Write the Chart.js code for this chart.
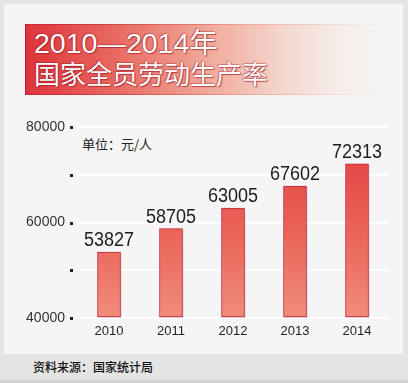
<!DOCTYPE html>
<html>
<head>
<meta charset="utf-8">
<script src="https://cdn.jsdelivr.net/npm/chart.js@4"></script>
<style>
  html, body { margin:0; padding:0; }
  body { width:408px; height:383px; background:#e4e4e4; position:relative; overflow:hidden;
         font-family:"Liberation Sans","Noto Sans CJK SC",sans-serif; }
  #panel { position:absolute; left:4px; top:4px; width:399px; height:350px; background:#f5f5f5; }
  #bottomline { position:absolute; left:0; top:380px; width:408px; height:3px; background:#d2d2d2; }
  #banner { position:absolute; left:25px; top:24px; width:360px; height:71px;
    background:linear-gradient(to right, #de343a 0%, #e86a62 25%, #f0a898 50%, #f4d8cf 72%, #f5eeeb 88%, rgba(245,245,245,0) 100%);
    border-left:1px solid #b81e2c; }
  #banner:before { content:""; position:absolute; left:0; top:0; right:0; height:1px;
    background:linear-gradient(to right, #c42634, rgba(230,120,110,0.4) 60%, rgba(245,245,245,0)); }
  #banner:after { content:""; position:absolute; left:0; bottom:0; right:0; height:1px;
    background:linear-gradient(to right, #c42634, rgba(230,120,110,0.4) 60%, rgba(245,245,245,0)); }
  .t { position:absolute; color:#fff; white-space:nowrap;
       text-shadow: 0 0 1px #9a1020, 1px 1px 1px rgba(150,20,30,0.6), -1px -1px 1px rgba(150,20,30,0.3); }
  #t1 { left:34px; top:29px; font-size:28.5px; line-height:28px; font-family:"Liberation Sans","Noto Sans CJK SC",sans-serif; }
  #t2 { left:34px; top:59px; font-size:26px; line-height:28px; font-family:"Noto Sans CJK SC",sans-serif; }
  #unit { position:absolute; left:82px; top:135px; font-size:13px; line-height:18px; color:#222;
          font-family:"Noto Sans CJK SC",sans-serif; }
  #source { position:absolute; left:33px; top:358px; font-size:12px; line-height:18px; color:#111;
            font-family:"Noto Sans CJK SC",sans-serif; font-weight:500; }
  #c { position:absolute; left:0; top:0; }
</style>
</head>
<body>
<div id="panel"></div>
<div id="bottomline"></div>
<div id="banner"></div>
<div class="t" id="t1">2010—2014年</div>
<div class="t" id="t2">国家全员劳动生产率</div>
<div id="unit">单位：元/人</div>
<div id="source">资料来源：国家统计局</div>
<canvas id="c" width="408" height="383"></canvas>
<script>
const years = ['2010', '2011', '2012', '2013', '2014'];
const productivity = [53827, 58705, 63005, 67602, 72313];
const yMin = 40000;
const yMax = 80000;
const yStep = 10000;
const labeledTicks = [40000, 60000, 80000];

function barGradient(ctx) {
  const chart = ctx.chart;
  const area = chart.chartArea;
  if (!area) return '#e9605a';
  const g = chart.ctx.createLinearGradient(0, area.top, 0, area.bottom);
  g.addColorStop(0, '#e23a3d');
  g.addColorStop(0.55, '#ea6458');
  g.addColorStop(1, '#f18c7a');
  return g;
}

const decorPlugin = {
  id: 'decor',
  beforeDatasetsDraw(chart) {
    const ctx = chart.ctx;
    const meta = chart.getDatasetMeta(0);
    ctx.save();
    meta.data.forEach(bar => {
      const w = bar.width;
      ctx.fillStyle = 'rgba(120,20,30,0.18)';
      ctx.fillRect(bar.x - w / 2 + 1, bar.y + 1, w, bar.base - bar.y);
    });
    ctx.restore();
  },
  afterDatasetsDraw(chart) {
    const ctx = chart.ctx;
    const meta = chart.getDatasetMeta(0);
    const data = chart.data.datasets[0].data;
    ctx.save();
    ctx.fillStyle = '#1e1e1e';
    ctx.font = '20px "Liberation Sans", Arial, sans-serif';
    ctx.textAlign = 'center';
    ctx.textBaseline = 'alphabetic';
    meta.data.forEach((bar, i) => {
      ctx.save();
      ctx.translate(bar.x, bar.y - 6);
      ctx.scale(0.9, 1);
      ctx.fillText(String(data[i]), 0, 0);
      ctx.restore();
    });
    const ys = chart.scales.y;
    ctx.fillStyle = '#222';
    ys.ticks.forEach(t => {
      const py = Math.round(ys.getPixelForValue(t.value));
      ctx.fillRect(70, py - 1, 3, 3);
    });
    ctx.restore();
  }
};

new Chart(document.getElementById('c'), {
  type: 'bar',
  data: {
    labels: years,
    datasets: [{
      data: productivity,
      base: yMin,
      backgroundColor: barGradient,
      borderColor: '#c0243a',
      borderWidth: 1,
      barThickness: 23,
      borderSkipped: false
    }]
  },
  options: {
    responsive: false,
    animation: false,
    devicePixelRatio: 1,
    layout: { padding: { left: 0, right: 20, top: 127, bottom: 40 } },
    plugins: { legend: { display: false }, tooltip: { enabled: false }, title: { display: false } },
    scales: {
      x: {
        grid: { display: false, drawTicks: false },
        border: { display: false },
        ticks: { color: '#222', font: { size: 13, family: '"Liberation Sans", Arial, sans-serif' }, padding: 6 },
        afterFit(s) { s.height = 25; }
      },
      y: {
        min: yMin, max: yMax,
        grid: { color: '#ffffff', lineWidth: 2, drawTicks: false },
        border: { display: false },
        ticks: {
          stepSize: yStep,
          padding: 13,
          color: '#333',
          font: { size: 14, family: '"Liberation Sans", Arial, sans-serif' },
          callback: v => labeledTicks.includes(v) ? String(v) : ''
        },
        afterFit(s) { s.width = 78; }
      }
    }
  },
  plugins: [decorPlugin]
});
</script>
</body>
</html>
